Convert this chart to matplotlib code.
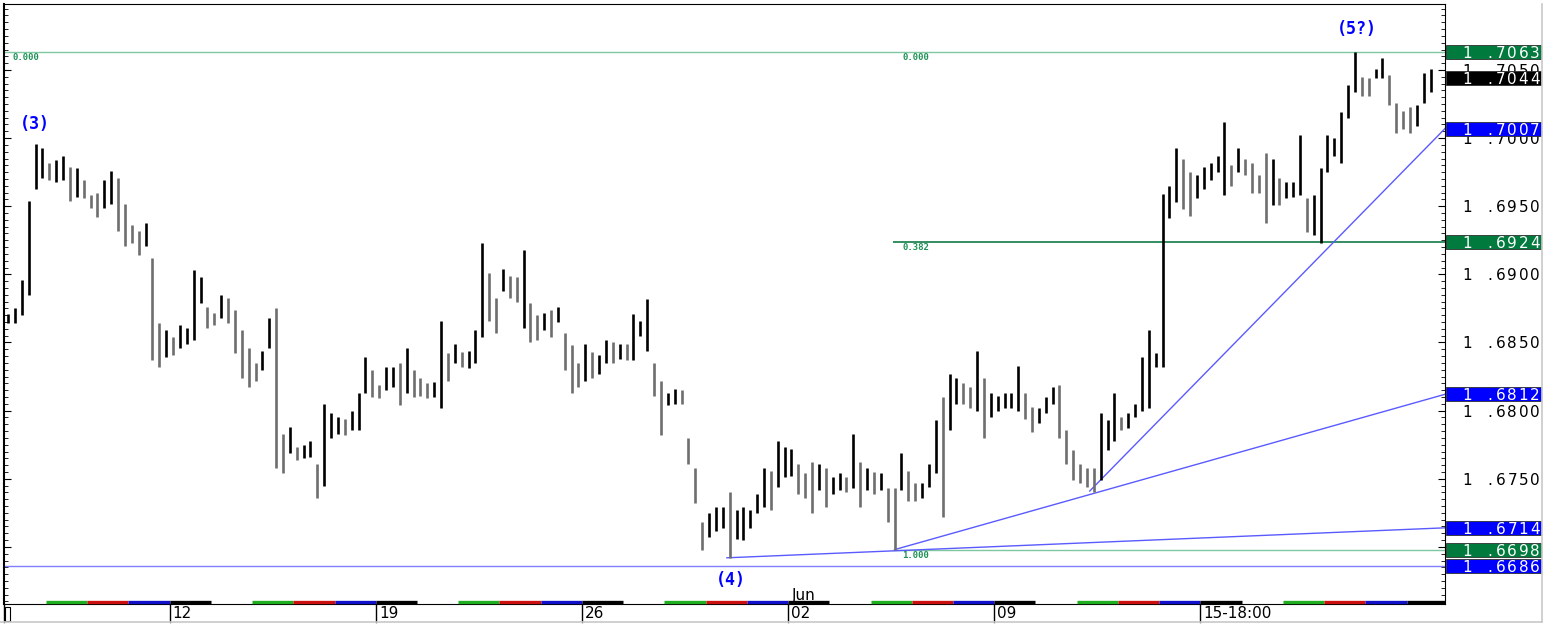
import numpy as np
import matplotlib.pyplot as plt
import matplotlib.transforms as mtransforms
from matplotlib.patches import Rectangle
from matplotlib.lines import Line2D
from matplotlib.ticker import MultipleLocator

# 4-hour bars (high / low)
highs = [1.6871, 1.6875, 1.6896, 1.6954, 1.6996, 1.6993, 1.6982, 1.6984, 1.6987, 1.6979,
         1.6978, 1.6969, 1.6958, 1.6960, 1.6969, 1.6976, 1.6971, 1.6952, 1.6936, 1.6932,
         1.6938, 1.6912, 1.6864, 1.6859, 1.6854, 1.6863, 1.6861, 1.6903, 1.6898, 1.6876,
         1.6872, 1.6885, 1.6883, 1.6874, 1.6859, 1.6846, 1.6835, 1.6844, 1.6868, 1.6875,
         1.6783, 1.6788, 1.6773, 1.6775, 1.6778, 1.6761, 1.6805, 1.6798, 1.6795, 1.6794,
         1.6800, 1.6813, 1.6839, 1.6830, 1.6819, 1.6832, 1.6832, 1.6835, 1.6846, 1.6830,
         1.6824, 1.6820, 1.6821, 1.6866, 1.6842, 1.6849, 1.6843, 1.6844, 1.6859, 1.6923,
         1.6901, 1.6883, 1.6904, 1.6899, 1.6898, 1.6918, 1.6879, 1.6870, 1.6872, 1.6874,
         1.6876, 1.6857, 1.6848, 1.6835, 1.6849, 1.6843, 1.6841, 1.6852, 1.6850, 1.6849,
         1.6849, 1.6871, 1.6866, 1.6882, 1.6835, 1.6822, 1.6813, 1.6816, 1.6815, 1.6780,
         1.6758, 1.6718, 1.6725, 1.6729, 1.6729, 1.6740, 1.6727, 1.6729, 1.6727, 1.6739,
         1.6758, 1.6756, 1.6778, 1.6773, 1.6772, 1.6761, 1.6754, 1.6762, 1.6761, 1.6758,
         1.6751, 1.6754, 1.6751, 1.6783, 1.6762, 1.6758, 1.6755, 1.6754, 1.6743, 1.6743,
         1.6769, 1.6756, 1.6747, 1.6747, 1.6761, 1.6793, 1.6810, 1.6827, 1.6824, 1.6820,
         1.6817, 1.6844, 1.6824, 1.6813, 1.6811, 1.6813, 1.6813, 1.6833, 1.6813, 1.6803,
         1.6802, 1.6810, 1.6817, 1.6819, 1.6786, 1.6771, 1.6761, 1.6758, 1.6758, 1.6798,
         1.6793, 1.6813, 1.6795, 1.6798, 1.6805, 1.6839, 1.6859, 1.6842, 1.6959, 1.6965,
         1.6993, 1.6985, 1.6975, 1.6973, 1.6979, 1.6982, 1.6987, 1.7012, 1.6980, 1.6993,
         1.6985, 1.6982, 1.6973, 1.6989, 1.6985, 1.6971, 1.6968, 1.6968, 1.7002, 1.6956,
         1.6958, 1.6978, 1.7002, 1.7000, 1.7019, 1.7039, 1.7063, 1.7045, 1.7044, 1.7051,
         1.7059, 1.7046, 1.7026, 1.7020, 1.7023, 1.7024, 1.7048, 1.7051]
lows = [1.6864, 1.6864, 1.6870, 1.6885, 1.6963, 1.6971, 1.6969, 1.6968, 1.6969, 1.6954,
        1.6957, 1.6956, 1.6949, 1.6942, 1.6949, 1.6952, 1.6932, 1.6921, 1.6923, 1.6914,
        1.6921, 1.6837, 1.6832, 1.6839, 1.6841, 1.6846, 1.6849, 1.6852, 1.6879, 1.6861,
        1.6863, 1.6868, 1.6864, 1.6842, 1.6824, 1.6817, 1.6822, 1.6830, 1.6846, 1.6758,
        1.6754, 1.6769, 1.6764, 1.6765, 1.6766, 1.6736, 1.6745, 1.6780, 1.6783, 1.6782,
        1.6786, 1.6786, 1.6813, 1.6810, 1.6809, 1.6815, 1.6817, 1.6804, 1.6813, 1.6810,
        1.6811, 1.6809, 1.6810, 1.6802, 1.6822, 1.6835, 1.6832, 1.6831, 1.6835, 1.6854,
        1.6866, 1.6857, 1.6888, 1.6883, 1.6880, 1.6861, 1.6850, 1.6852, 1.6859, 1.6854,
        1.6865, 1.6830, 1.6813, 1.6817, 1.6822, 1.6824, 1.6827, 1.6835, 1.6835, 1.6838,
        1.6837, 1.6837, 1.6855, 1.6844, 1.6811, 1.6782, 1.6804, 1.6805, 1.6805, 1.6761,
        1.6732, 1.6698, 1.6707, 1.6712, 1.6714, 1.6692, 1.6706, 1.6705, 1.6714, 1.6725,
        1.6729, 1.6727, 1.6744, 1.6751, 1.6752, 1.6739, 1.6736, 1.6725, 1.6742, 1.6729,
        1.6739, 1.6742, 1.6740, 1.6743, 1.6729, 1.6742, 1.6739, 1.6742, 1.6718, 1.6698,
        1.6742, 1.6734, 1.6734, 1.6736, 1.6744, 1.6754, 1.6722, 1.6786, 1.6805, 1.6805,
        1.6802, 1.6800, 1.6780, 1.6795, 1.6800, 1.6802, 1.6802, 1.6800, 1.6794, 1.6784,
        1.6791, 1.6798, 1.6805, 1.6780, 1.6761, 1.6749, 1.6747, 1.6744, 1.6740, 1.6749,
        1.6771, 1.6778, 1.6786, 1.6787, 1.6795, 1.6800, 1.6802, 1.6832, 1.6832, 1.6941,
        1.6953, 1.6948, 1.6943, 1.6956, 1.6963, 1.6969, 1.6975, 1.6958, 1.6965, 1.6975,
        1.6973, 1.6960, 1.6960, 1.6938, 1.6951, 1.6951, 1.6956, 1.6957, 1.6958, 1.6931,
        1.6929, 1.6923, 1.6975, 1.6987, 1.6982, 1.7015, 1.7034, 1.7031, 1.7031, 1.7044,
        1.7044, 1.7024, 1.7004, 1.7007, 1.7004, 1.7009, 1.7026, 1.7034]

bars_per_day = 6
day_colors = [None, '#1fae1f', '#cc1010', '#1010c8', '#000000']   # Tue, Wed, Thu, Fri, Mon
week_labels = ['12', '19', '26', '02', '09', '15-18:00']
week_starts = [23.5, 53.5, 83.5, 113.5, 143.5, 173.5]

price_ticks = [1.6750, 1.6800, 1.6850, 1.6900, 1.6950, 1.7000, 1.7050]
box_prices = [1.7063, 1.7044, 1.7007, 1.6924, 1.6812, 1.6714, 1.6698, 1.6686]
box_colors = ['#007a3d', '#000000', '#0000ff', '#007a3d', '#0000ff', '#0000ff', '#007a3d', '#0000ff']

# fibonacci levels and trend lines (start bar, start price, price at right edge)
fib_top = 1.7063
fib_382 = 1.6924
fib_low = 1.6698
fib2_start = 128.7
base_line = 1.6686
trend_x0 = [104.6, 129.0, 157.4]
trend_p0 = [1.6692, 1.6698, 1.6741]
trend_p1 = [1.6714, 1.6812, 1.7007]

W, H = 1546, 625
fig = plt.figure(figsize=(W / 100, H / 100), dpi=100)
ax = fig.add_axes([4 / W, 21 / H, 1441 / W, 600 / H])
x_left, x_right = -0.6, 209.1
ax.set_xlim(x_left, x_right)
ax.set_ylim(1.66581, 1.70984)

x = np.arange(len(highs))
mid = (np.array(highs) + np.array(lows)) / 2
cols = ['#000000' if i == 0 or mid[i] >= mid[i - 1] else '#6e6e6e' for i in range(len(mid))]
ax.vlines(x, lows, highs, colors=cols, lw=1.9, zorder=3)

# levels
ax.axhline(fib_top, color='#7fc7a0', lw=1, zorder=2)
ax.hlines(fib_382, fib2_start, x_right, color='#117a45', lw=1.2, zorder=2)
ax.hlines(fib_low, fib2_start, x_right, color='#7fc7a0', lw=1, zorder=2)
ax.axhline(base_line, color='#7f7fff', lw=1, zorder=2)
for x0, p0, p1 in zip(trend_x0, trend_p0, trend_p1):
    ax.plot([x0, x_right], [p0, p1], color='#5a5aff', lw=1, zorder=2)

fib_kw = dict(color='#1d9155', fontsize=6.5, family='DejaVu Sans Mono', fontweight='bold', va='top')
ax.text(0.6, fib_top - 0.00008, '0.000', **fib_kw)
ax.text(fib2_start + 1.4, fib_top - 0.00008, '0.000', **fib_kw)
ax.text(fib2_start + 1.4, fib_382 - 0.00008, '0.382', **fib_kw)
ax.text(fib2_start + 1.4, fib_low - 0.00008, '1.000', **fib_kw)

wave_kw = dict(color='#0000ff', fontsize=12, family='DejaVu Sans Mono', fontweight='bold',
               ha='center', va='center')
ax.text(3.9, 1.7010, '(3)', **wave_kw)
ax.text(105.2, 1.66757, '(4)', **wave_kw)
ax.text(196.3, 1.7080, '(5?)', **wave_kw)

# axes styling
for s in ['left', 'right', 'top', 'bottom']:
    ax.spines[s].set_color('black')
ax.spines['left'].set_linewidth(1.5)
ax.yaxis.set_major_locator(MultipleLocator(0.005))
ax.yaxis.set_minor_locator(MultipleLocator(0.0005))
ax.tick_params(axis='y', which='both', direction='in', left=True, right=True,
               labelleft=False, labelright=False, color='black')
ax.tick_params(axis='y', which='major', length=5)
ax.tick_params(axis='y', which='minor', length=3)
ax.set_xticks([])

# day colour strip on the time axis
xt = ax.get_xaxis_transform()
for d in range(int(np.ceil(x_right / bars_per_day)) + 1):
    c = day_colors[d % 5]
    if c is None:
        continue
    a = max(d * bars_per_day - 0.5, x_left)
    b = min(d * bars_per_day + bars_per_day - 0.5, x_right)
    ax.plot([a, b], [0.003, 0.003], color=c, lw=2.4, transform=xt, clip_on=False,
            solid_capstyle='butt', zorder=5)

# week separators and date labels
for xs, lab in zip([x_left] + week_starts, [''] + week_labels):
    ax.plot([xs, xs], [0, -0.03], color='black', lw=1, transform=xt, clip_on=False)
    ax.text(xs + 0.45, -0.016, lab, transform=xt, ha='left', va='center', fontsize=11)
ax.text(113.5 + 0.6, 0.014, 'Jun', transform=xt, ha='left', va='center', fontsize=11)
fig.add_artist(Rectangle((5 / W, 4 / H), 5 / W, 14 / H, transform=fig.transFigure,
                         fill=False, edgecolor='black', lw=0.8))

# outer frame
fig.add_artist(Line2D([0, 1541.5 / W], [3.5 / H, 3.5 / H], color='#c8c8c8', lw=1.2))
fig.add_artist(Line2D([1541.5 / W, 1541.5 / W], [3.5 / H, 621 / H], color='#c8c8c8', lw=1.2))

# price scale on the right, characters on a fixed pitch
yt = mtransforms.blended_transform_factory(fig.transFigure, ax.transData)
px_per_price = 600 / (1.70984 - 1.66581)


def scale_text(price, s, color, z):
    slots = [0] + list(range(2, len(s) + 1))
    for ch, k in zip(s, slots):
        ax.text((1466.7 + 11.35 * k) / W, price, ch, transform=yt, ha='center',
                va='center_baseline', fontsize=11, color=color, clip_on=False, zorder=z)


for p in price_ticks:
    scale_text(p, f'{p:.4f}', 'black', 4)

box_h = 14 / px_per_price
for p, c in zip(box_prices, box_colors):
    ax.add_patch(Rectangle((1446 / W, p - box_h / 2), 95 / W, box_h, transform=yt,
                           facecolor=c, edgecolor='#303030', lw=0.6, clip_on=False, zorder=5))
    scale_text(p, f'{p:.4f}', 'white', 6)

fig.savefig('out.png', dpi=100)
